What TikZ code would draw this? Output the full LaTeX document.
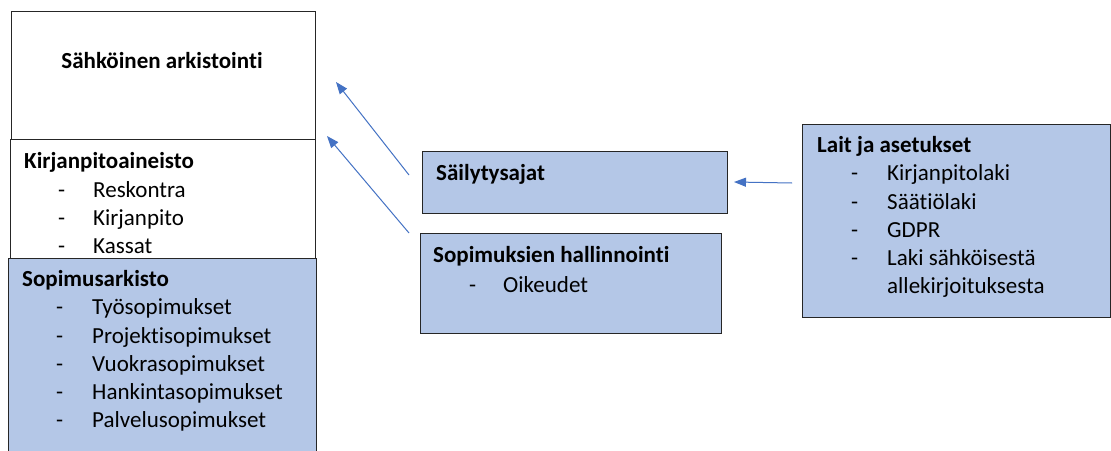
\documentclass[tikz,border=0pt]{standalone}
\usepackage{fontspec}
\setmainfont{Carlito}[Ligatures=NoCommon]
\usetikzlibrary{arrows.meta,positioning}
\definecolor{boxblue}{HTML}{B4C7E7}
\definecolor{arrowblue}{HTML}{4472C4}

\begin{document}
\begin{tikzpicture}[x=1pt, y=-1pt,
  every node/.style={font=\fontsize{23}{28}\selectfont},
  box/.style={rectangle, draw=black!85, line width=1pt, anchor=north west, inner sep=0pt},
  bluebox/.style={box, fill=boxblue},
  head/.style={anchor=base west, inner sep=0pt, font=\fontsize{23}{28}\selectfont\bfseries},
  item/.style={anchor=base west, inner sep=0pt},
  link/.style={draw=arrowblue, line width=1pt, -{Triangle[length=12pt,width=9pt]}}]
  \clip (0,0) rectangle (1111,450);
  \fill[white] (0,0) rectangle (1111,450);

  % arkisto pino
  \node[box, minimum width=304pt, minimum height=128pt] (arkisto) at (11,11) {};
  \node[box, fill=white, minimum width=305pt, minimum height=119pt] (kirja) at (10,139) {};
  \node[bluebox, minimum width=308pt, minimum height=220pt] (sopimus) at (8,258) {};

  \node[anchor=base, inner sep=0pt, font=\fontsize{23}{28}\selectfont\bfseries] (arkistoHead) at (162,68) {Sähköinen arkistointi};

  \node[head] (kirjaHead) at (24,168) {Kirjanpitoaineisto};
  \node[item] at (58,197) {-};  \node[item] at (93,197) {Reskontra};
  \node[item] at (58,225) {-};  \node[item] at (93,225) {Kirjanpito};
  \node[item] at (58,253) {-};  \node[item] at (93,253) {Kassat};

  \node[head] (sopimusHead) at (22,286) {Sopimusarkisto};
  \node[item] at (56,314) {-};  \node[item] at (92,314) {Työsopimukset};
  \node[item] at (56,343) {-};  \node[item] at (92,343) {Projektisopimukset};
  \node[item] at (56,371) {-};  \node[item] at (92,371) {Vuokrasopimukset};
  \node[item] at (56,399) {-};  \node[item] at (92,399) {Hankintasopimukset};
  \node[item] at (56,427) {-};  \node[item] at (92,427) {Palvelusopimukset};

  % keskimmaiset laatikot
  \node[bluebox, minimum width=305pt, minimum height=62pt] (sailytys) at (422,151) {};
  \node[head] (sailytysHead) at (436,180) {Säilytysajat};

  \node[bluebox, minimum width=301pt, minimum height=100pt] (hallinto) at (420,233) {};
  \node[head] (hallintoHead) at (433,262) {Sopimuksien hallinnointi};
  \node[item] at (469,292) {-};  \node[item] at (503,292) {Oikeudet};

  % lait
  \node[bluebox, minimum width=308pt, minimum height=193pt] (lait) at (802,124) {};
  \node[head] (laitHead) at (817,152) {Lait ja asetukset};
  \node[item] at (851,180) {-};  \node[item] at (887,180) {Kirjanpitolaki};
  \node[item] at (851,209) {-};  \node[item] at (887,209) {Säätiölaki};
  \node[item] at (851,237) {-};  \node[item] at (887,237) {GDPR};
  \node[item] at (851,265) {-};  \node[item] at (887,265) {Laki sähköisestä};
  \node[item] at (887,293) {allekirjoituksesta};

  % nuolet
  \coordinate (tailA) at (409,175);
  \coordinate (tipA) at (336,82);
  \coordinate (tailB) at (409,233);
  \coordinate (tipB) at (327,136);
  \coordinate (tailC) at (792,183);
  \coordinate (tipC) at (734,182);
  \draw[link] (tailA) -- (tipA);
  \draw[link] (tailB) -- (tipB);
  \draw[link] (tailC) -- (tipC);
\end{tikzpicture}
\end{document}
